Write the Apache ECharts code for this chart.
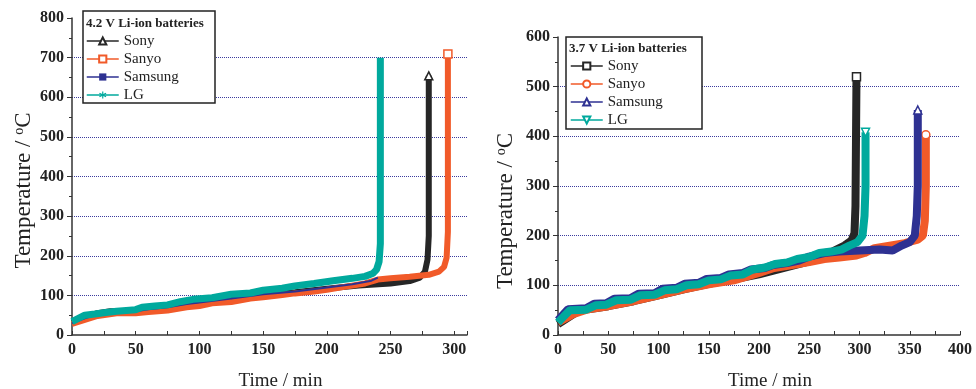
<!DOCTYPE html>
<html>
<head>
<meta charset="utf-8">
<script src="https://cdn.jsdelivr.net/npm/echarts@6/dist/echarts.min.js"></script>
<style>
html,body{margin:0;padding:0;background:#fff;}
#chart{width:976px;height:389px;}
</style>
</head>
<body>
<div id="chart"></div>
<script>
// ---------- Data (time in min, temperature in °C) ----------
const seriesNames = ['Sony', 'Sanyo', 'Samsung', 'LG'];
const legendTitle42 = '4.2 V Li-ion batteries';
const legendTitle37 = '3.7 V Li-ion batteries';
const xTicks42 = [0, 50, 100, 150, 200, 250, 300];
const yTicks42 = [0, 100, 200, 300, 400, 500, 600, 700, 800];
const xTicks37 = [0, 50, 100, 150, 200, 250, 300, 350, 400];
const yTicks37 = [0, 100, 200, 300, 400, 500, 600];

// 4.2 V batteries
const sony42 = [[0,32],[10,45],[20,55],[30,60],[50,60],[75,68],[100,78],[125,90],[150,100],[175,108],[200,117],[225,125],[250,130],[265,136],[273,145],[277,160],[279,190],[280,250],[280,654]];
const sanyo42 = [[0,28],[10,38],[20,48],[35,55],[50,55],[60,58],[75,62],[90,70],[100,73],[110,80],[125,83],[140,92],[150,95],[165,101],[175,105],[190,110],[200,114],[215,122],[230,130],[240,140],[250,143],[265,147],[280,152],[288,160],[292,172],[294,195],[295,260],[295,709]];
const samsung42 = [[0,30],[10,42],[20,52],[30,57],[50,60],[60,65],[75,70],[90,78],[100,82],[125,92],[150,103],[175,110],[200,120],[220,128],[235,137],[240,145]];
const lg42 = [[0,34],[5,42],[10,50],[18,53],[25,56],[35,60],[50,64],[55,70],[65,73],[75,76],[85,84],[95,90],[110,94],[125,103],[140,106],[150,113],[165,118],[175,124],[190,130],[205,137],[220,143],[230,148],[236,155],[239,165],[241,185],[242,230],[242,400],[242,700]];

// 3.7 V batteries
const sony37 = [[0,22],[10,35],[20,48],[30,52],[50,58],[75,68],[100,80],[125,92],[150,103],[175,112],[200,122],[225,135],[250,148],[265,160],[275,170],[285,180],[292,190],[295,205],[296,260],[297,520]];
const sanyo37 = [[0,25],[15,42],[30,52],[50,58],[75,68],[100,80],[125,92],[150,102],[175,110],[200,125],[215,135],[230,140],[250,147],[265,153],[280,156],[297,160],[305,165],[315,175],[330,180],[345,185],[358,192],[363,200],[365,230],[366,300],[366,403]];
const samsung37 = [[0,30],[10,52],[28,54],[36,63],[48,64],[56,73],[72,74],[80,83],[96,84],[104,93],[118,95],[126,103],[140,105],[148,113],[162,115],[170,122],[184,125],[192,132],[206,135],[214,141],[228,145],[240,150],[250,158],[265,165],[280,168],[300,170],[320,172],[333,170],[342,180],[350,187],[355,200],[357,240],[358,300],[358,453]];
const lg37 = [[0,25],[6,38],[12,50],[28,51],[38,60],[48,61],[58,70],[72,71],[82,80],[96,81],[106,90],[118,92],[128,100],[140,102],[150,110],[162,112],[172,120],[184,122],[194,132],[206,136],[216,143],[228,146],[238,153],[250,157],[260,165],[272,168],[282,172],[290,180],[298,187],[303,200],[305,240],[306,300],[306,408]];

// ---------- Styles ----------
const C = {sony:'#262626', sanyo:'#f15a29', samsung:'#2e3192', lg:'#00a99d'};
const SERIF = '"Liberation Serif", "Times New Roman", serif';
const GRIDC = '#3b3b9e';
const invTri = 'path://M0,0L10,0L5,9Z';
const asterisk = 'path://M4.3,0H5.7V3.3L8.6,1.6L9.3,2.8L6.4,4.5L9.3,6.2L8.6,7.4L5.7,5.7V9H4.3V5.7L1.4,7.4L0.7,6.2L3.6,4.5L0.7,2.8L1.4,1.6L4.3,3.3Z';
const dash = 'path://M0,0H12V3H0Z';

function endSize(len, size) {
  return function (v, p) { return p.dataIndex === len - 1 ? size : 0; };
}
function mkSeries(name, data, idx, color, symbol, width, endSym, z) {
  return {
    name: name, type: 'line', xAxisIndex: idx, yAxisIndex: idx,
    data: data, symbol: symbol,
    symbolSize: endSym ? endSize(data.length, 8) : 0,
    showSymbol: true, showAllSymbol: true,
    itemStyle: {color: '#fff', borderColor: color, borderWidth: 1.5},
    lineStyle: {color: color, width: width},
    emphasis: {disabled: true}, animation: false, z: z
  };
}
function splitColors(n) {
  const arr = [];
  for (let i = 0; i < n; i++) arr.push(i === 0 || i === n - 1 ? 'rgba(0,0,0,0)' : GRIDC);
  return arr;
}
function xAxisCfg(idx, max, ticks) {
  return {
    type: 'value', gridIndex: idx, min: 0, max: max, interval: 50,
    name: 'Time / min', nameLocation: 'middle', nameGap: 37,
    nameTextStyle: {fontFamily: SERIF, fontSize: 19, color: '#222', padding: [0, 0, 0, 22]},
    axisLine: {show: true, lineStyle: {color: '#333', width: 1.5}},
    axisTick: {show: true, inside: true, length: 4, lineStyle: {color: '#333'}},
    minorTick: {show: true, splitNumber: 2, length: 4, lineStyle: {color: '#333'}},
    axisLabel: {fontFamily: SERIF, fontSize: 16, fontWeight: 'bold', color: '#222', margin: 7,
      showMaxLabel: max === ticks[ticks.length - 1],
      formatter: v => (ticks.indexOf(v) >= 0 ? String(v) : '')},
    splitLine: {show: false}
  };
}
function yAxisCfg(idx, max, ticks, pad, gap) {
  return {
    type: 'value', gridIndex: idx, min: 0, max: max, interval: 100,
    name: 'Temperature / {sup|o}C', nameLocation: 'middle', nameGap: gap,
    nameTextStyle: {fontFamily: SERIF, fontSize: 23, color: '#222', padding: [0, pad, 0, 0],
      rich: {sup: {fontFamily: SERIF, fontSize: 14, color: '#222', verticalAlign: 'top', padding: [0, 0, 9, 0]}}},
    axisLine: {show: true, lineStyle: {color: '#333', width: 1.5}},
    axisTick: {show: true, inside: false, length: 5, lineStyle: {color: '#333'}},
    minorTick: {show: true, splitNumber: 2, length: 3, lineStyle: {color: '#333'}},
    axisLabel: {fontFamily: SERIF, fontSize: 16, fontWeight: 'bold', color: '#222', margin: 8,
      formatter: v => (ticks.indexOf(v) >= 0 ? String(v) : '')},
    splitLine: {show: true, lineStyle: {type: 'dotted', width: 1, color: splitColors(ticks.length)}}
  };
}
function legendCfg(left, top, names) {
  return {
    show: true, orient: 'vertical', left: left, top: top, padding: 0,
    itemWidth: 32, itemHeight: 9, itemGap: 2, itemTextGap: 4,
    data: names.map(n => ({name: n})),
    textStyle: {fontFamily: SERIF, fontSize: 15, color: '#222', lineHeight: 16},
    lineStyle: {width: 1.5},
    selectedMode: false, z: 10
  };
}

const option = {
  backgroundColor: '#fff',
  animation: false,
  grid: [
    {left: 72, top: 18, width: 395, height: 317, outerBoundsMode: 'none', containLabel: false},
    {left: 558, top: 37, width: 402, height: 298, outerBoundsMode: 'none', containLabel: false}
  ],
  xAxis: [xAxisCfg(0, 310, xTicks42), xAxisCfg(1, 400, xTicks37)],
  yAxis: [yAxisCfg(0, 800, yTicks42, 28, 37), yAxisCfg(1, 600, yTicks37, 50, 41)],
  graphic: [
    {type: 'rect', shape: {x: 83, y: 11, width: 132, height: 92}, style: {fill: '#fff', stroke: '#222', lineWidth: 1.5}, z: 5},
    {type: 'text', x: 86, y: 17, style: {text: legendTitle42, font: 'bold 13px ' + SERIF, fill: '#222'}, z: 6},
    {type: 'rect', shape: {x: 566, y: 37, width: 136, height: 92}, style: {fill: '#fff', stroke: '#222', lineWidth: 1.5}, z: 5},
    {type: 'text', x: 569, y: 42, style: {text: legendTitle37, font: 'bold 13px ' + SERIF, fill: '#222'}, z: 6}
  ],
  series: []
};

const s42 = [
  mkSeries('Sony', sony42, 0, C.sony, 'triangle', 6, true, 2),
  mkSeries('Sanyo', sanyo42, 0, C.sanyo, 'rect', 6, true, 3),
  mkSeries('Samsung', samsung42, 0, C.samsung, dash, 2, false, 4),
  mkSeries('LG', lg42, 0, C.lg, asterisk, 7, false, 5)
];
s42[2].itemStyle = {color: C.samsung, borderColor: C.samsung, borderWidth: 0};
s42[3].itemStyle = {color: C.lg, borderColor: C.lg, borderWidth: 0};
const s37 = [
  mkSeries('Sony ', sony37, 1, C.sony, 'rect', 8, true, 2),
  mkSeries('Sanyo ', sanyo37, 1, C.sanyo, 'circle', 8, true, 3),
  mkSeries('Samsung ', samsung37, 1, C.samsung, 'triangle', 8, true, 4),
  mkSeries('LG ', lg37, 1, C.lg, invTri, 8, true, 5)
];
option.series = s42.concat(s37);
option.legend = [
  legendCfg(86, 33, seriesNames),
  legendCfg(570, 58, seriesNames.map(n => n + ' '))
];

const chart = echarts.init(document.getElementById('chart'), null, {renderer: 'canvas'});
chart.setOption(option);
</script>
</body>
</html>
